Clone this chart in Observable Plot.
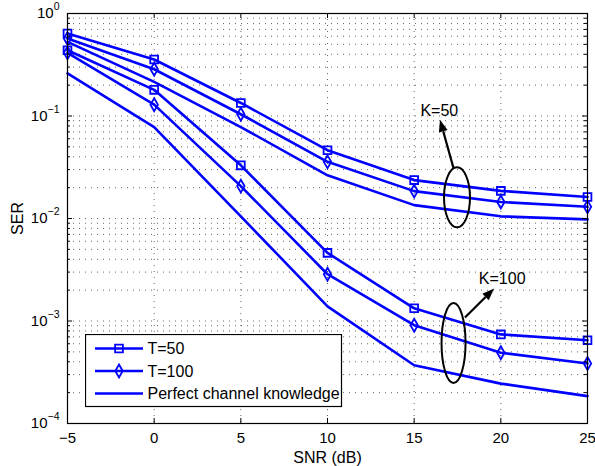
<!DOCTYPE html>
<html><head><meta charset="utf-8">
<script src="https://cdn.jsdelivr.net/npm/d3@7"></script>
<script src="https://cdn.jsdelivr.net/npm/@observablehq/plot@0.6"></script>
<style>
body{margin:0;background:#fff;}
#wrap{position:relative;width:595px;height:466px;font-family:"Liberation Sans",Arial,Helvetica,sans-serif;}
#legend{position:absolute;left:85px;top:334px;}
</style></head><body><div id="wrap"></div>
<script>
// ---- data ----
const snr = [-5, 0, 5, 10, 15, 20, 25];
const k50_t50      = [0.638, 0.356, 0.134, 0.0464, 0.0237, 0.0186, 0.0162];
const k50_t100     = [0.57, 0.286, 0.104, 0.0357, 0.0185, 0.0145, 0.013];
const k50_perfect  = [0.528, 0.215, 0.078, 0.0264, 0.0135, 0.0105, 0.0098];
const k100_t50     = [0.438, 0.18, 0.033, 0.00462, 0.00133, 0.00074, 0.00065];
const k100_t100    = [0.413, 0.129, 0.0207, 0.00286, 0.00091, 0.00049, 0.000385];
const k100_perfect = [0.26, 0.078, 0.0105, 0.00139, 0.00037, 0.000245, 0.000185];

const xTicks = [-5, 0, 5, 10, 15, 20, 25];
const yMajor = [1e-4, 1e-3, 1e-2, 1e-1, 1];
const yExponents = ["−4", "−3", "−2", "−1", "0"];
const xLabel = "SNR (dB)";
const yLabel = "SER";
const legendLabels = ["T=50", "T=100", "Perfect channel knowledge"];
const legendSymbols = ["square", "diamond", null];

// annotations (data coordinates)
const annotLabels = ["K=50", "K=100"];
const annotTextX = [15.36, 18.73];
const annotTextY = [0.1114, 0.00256];
const ellipseX = [17.5, 17.3];
const ellipseY = [0.0159, 0.000603];
const arrowFromX = [17.29, 17.96];
const arrowFromY = [0.031, 0.00107];
const arrowToX = [16.52, 19.64];
const arrowToY = [0.091, 0.00205];

// ---- build table ----
const series = [
  {key: "K50 T50", sym: "square", vals: k50_t50},
  {key: "K50 T100", sym: "diamond", vals: k50_t100},
  {key: "K50 perfect", sym: null, vals: k50_perfect},
  {key: "K100 T50", sym: "square", vals: k100_t50},
  {key: "K100 T100", sym: "diamond", vals: k100_t100},
  {key: "K100 perfect", sym: null, vals: k100_perfect}
];
const rows = series.flatMap(s => s.vals.map((v, i) => ({snr: snr[i], ser: v, series: s.key, sym: s.sym})));
const annots = annotLabels.map((t, i) => ({label: t, x: annotTextX[i], y: annotTextY[i]}));

const yMinor = [];
for (let i = 0; i < yMajor.length - 1; i++) for (let m = 2; m <= 9; m++) yMinor.push(yMajor[i] * m);
const yGrid = yMajor.concat(yMinor);

const W = 595, H = 466, mL = 67, mR = 8, mT = 13, mB = 43;
const fW = W - mL - mR, fH = H - mT - mB;
const BLUE = "#0000ff";
const SQ_R = 4.4, DI_R = 3.9;
const FONT = '"Liberation Sans", Arial, Helvetica, sans-serif';
const gridStyle = {stroke: "#000", strokeOpacity: 0.6, strokeDasharray: "1,5", strokeWidth: 1};

const plot = Plot.plot({
  width: W, height: H,
  marginLeft: mL, marginRight: mR, marginTop: mT, marginBottom: mB,
  style: {fontFamily: FONT, fontSize: "15px", color: "#000", background: "#fff"},
  x: {domain: [-5, 25]},
  y: {type: "log", domain: [1e-4, 1]},
  marks: [
    Plot.gridY(yGrid, gridStyle),
    Plot.gridX(xTicks, gridStyle),
    Plot.line(rows, {x: "snr", y: "ser", z: "series", stroke: BLUE, strokeWidth: 2.6}),
    Plot.dot(rows.filter(d => d.sym === "square"), {x: "snr", y: "ser", symbol: "square", r: SQ_R, stroke: BLUE, strokeWidth: 1.8, fill: "none"}),
    Plot.dot(rows.filter(d => d.sym === "diamond"), {x: "snr", y: "ser", symbol: "diamond", r: DI_R, stroke: BLUE, strokeWidth: 1.8, fill: "none"}),
    // inward ticks
    Plot.tickX(xTicks, {x: d => d, insetTop: fH - 5, stroke: "#000"}),
    Plot.tickX(xTicks, {x: d => d, insetBottom: fH - 5, stroke: "#000"}),
    Plot.tickY(yMajor, {y: d => d, insetRight: fW - 5, stroke: "#000"}),
    Plot.tickY(yMajor, {y: d => d, insetLeft: fW - 5, stroke: "#000"}),
    Plot.tickY(yMinor, {y: d => d, insetRight: fW - 3, stroke: "#000"}),
    Plot.tickY(yMinor, {y: d => d, insetLeft: fW - 3, stroke: "#000"}),
    Plot.frame({stroke: "#000", strokeWidth: 1.2}),
    Plot.axisX(xTicks, {tickSize: 0, tickPadding: 9, label: null, tickFormat: d => d < 0 ? "−" + (-d) : String(d)}),
    Plot.axisY(yMajor, {tickSize: 0, tickPadding: 8, label: null, tickFormat: d => "10^" + yExponents[yMajor.indexOf(d)]}),
    Plot.text([xLabel], {frameAnchor: "bottom", text: d => d, lineAnchor: "middle", textAnchor: "middle", dy: 34, fill: "#000", fontSize: 16}),
    Plot.text([yLabel], {frameAnchor: "left", text: d => d, rotate: -90, lineAnchor: "middle", textAnchor: "middle", dx: -50, fill: "#000", fontSize: 16}),
    Plot.text(annots, {x: "x", y: "y", text: "label", textAnchor: "start", lineAnchor: "middle", fill: "#000", fontSize: 16})
  ]
});

// superscripts for y tick labels
d3.select(plot).selectAll("text").each(function () {
  const t = this.textContent;
  if (t.startsWith("10^")) {
    const [b, e] = t.split("^");
    const s = d3.select(this);
    s.text(null);
    s.append("tspan").text(b);
    s.append("tspan").attr("dy", "-0.75em").attr("font-size", "10.5px").text(e);
  }
});

// ellipses and arrows via plot scales
const sx = plot.scale("x"), sy = plot.scale("y");
const svg = d3.select(plot);
const ellipseR = [[13, 30], [12, 40]];
const ga = svg.append("g");
annotLabels.forEach((_, i) => {
  ga.append("ellipse")
    .attr("cx", sx.apply(ellipseX[i])).attr("cy", sy.apply(ellipseY[i]))
    .attr("rx", ellipseR[i][0]).attr("ry", ellipseR[i][1])
    .attr("fill", "none").attr("stroke", "#000").attr("stroke-width", 2);
  const x1 = sx.apply(arrowFromX[i]), y1 = sy.apply(arrowFromY[i]);
  const x2 = sx.apply(arrowToX[i]), y2 = sy.apply(arrowToY[i]);
  const ang = Math.atan2(y2 - y1, x2 - x1);
  const hl = 12, hw = 4.5;
  const bx = x2 - hl * Math.cos(ang), by = y2 - hl * Math.sin(ang);
  ga.append("line").attr("x1", x1).attr("y1", y1).attr("x2", bx).attr("y2", by)
    .attr("stroke", "#000").attr("stroke-width", 2.2);
  const px = -Math.sin(ang), py = Math.cos(ang);
  ga.append("polygon")
    .attr("points", `${x2},${y2} ${bx + hw * px},${by + hw * py} ${bx - hw * px},${by - hw * py}`)
    .attr("fill", "#000");
});

document.getElementById("wrap").appendChild(plot);

// legend
const lg = d3.select("#wrap").append("svg").attr("id", "legend")
  .attr("width", 258).attr("height", 74);
lg.append("rect").attr("x", 0.5).attr("y", 0.5).attr("width", 256).attr("height", 72)
  .attr("fill", "#fff").attr("stroke", "#000").attr("stroke-width", 1.2);
legendLabels.forEach((lab, i) => {
  const cy = 14.5 + i * 22.5;
  const g = lg.append("g");
  g.append("line").attr("x1", 10).attr("x2", 58).attr("y1", cy).attr("y2", cy)
    .attr("stroke", BLUE).attr("stroke-width", 2.6);
  if (legendSymbols[i] === "square") {
    g.append("path").attr("transform", `translate(34,${cy})`)
      .attr("d", d3.symbol(d3.symbolSquare, Math.PI * SQ_R * SQ_R)())
      .attr("fill", "none").attr("stroke", BLUE).attr("stroke-width", 1.8);
  } else if (legendSymbols[i] === "diamond") {
    g.append("path").attr("transform", `translate(34,${cy})`)
      .attr("d", d3.symbol(d3.symbolDiamond, Math.PI * DI_R * DI_R)())
      .attr("fill", "none").attr("stroke", BLUE).attr("stroke-width", 1.8);
  }
  g.append("text").attr("x", 62.5).attr("y", cy).attr("dy", "0.35em")
    .attr("font-size", "16px").attr("font-family", FONT)
    .attr("fill", "#000").text(lab);
});
</script>
</body></html>
